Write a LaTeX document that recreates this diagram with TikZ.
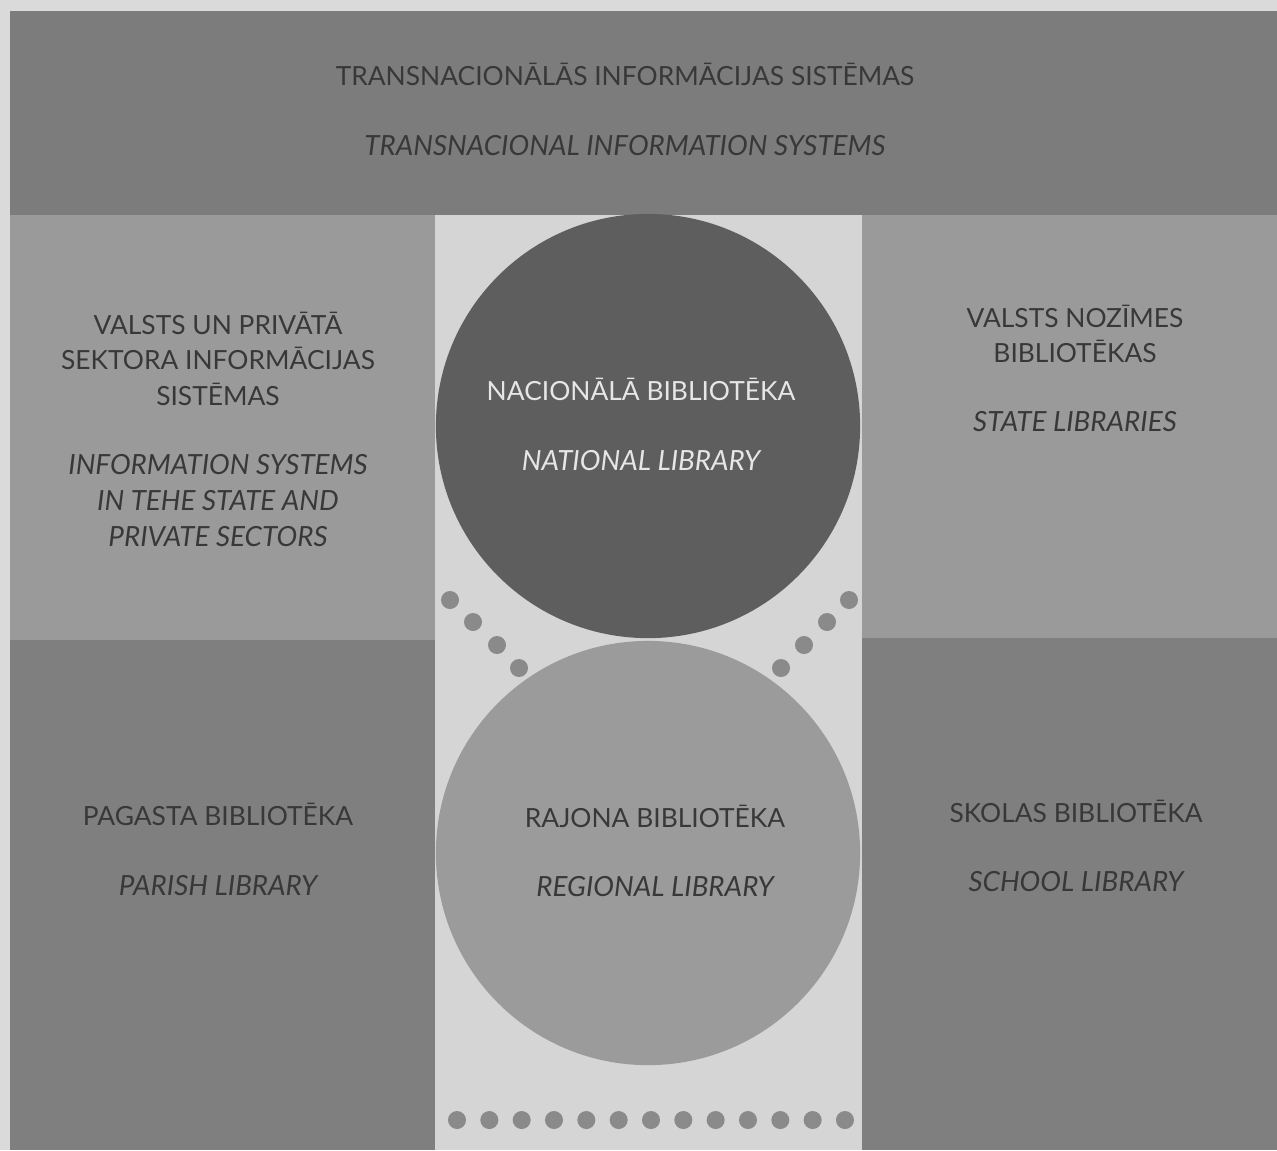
\documentclass[tikz,border=0pt]{standalone}
\usepackage{fontspec}
\setmainfont{Lato}
\definecolor{paper}{HTML}{DADADA}
\definecolor{band}{HTML}{7C7C7C}
\definecolor{upper}{HTML}{9A9A9A}
\definecolor{lower}{HTML}{7F7F7F}
\definecolor{column}{HTML}{D5D5D5}
\definecolor{natcirc}{HTML}{5E5E5E}
\definecolor{regcirc}{HTML}{9B9B9B}
\definecolor{dotc}{HTML}{8A8A8A}
\definecolor{ink}{HTML}{383838}
\definecolor{lightink}{HTML}{E6E6E6}
\tikzset{
  label/.style={align=center,text=ink,font=\fontsize{7.5}{10.2}\selectfont,inner sep=0pt},
  ilabel/.style={label,font=\fontsize{7.9}{10.2}\selectfont\itshape},
  bigcirc/.style={circle,minimum size=4.24cm,inner sep=0pt,draw=none},
  dotn/.style={circle,fill=dotc,minimum size=0.18cm,inner sep=0pt,draw=none},
}
\begin{document}
\begin{tikzpicture}[x=0.01cm,y=-0.01cm]
\useasboundingbox (0,0) rectangle (1277,1150);
\fill[paper] (0,0) rectangle (1277,1150);
% bands
\fill[band] (10,11) rectangle (1277,215);
\fill[upper] (10,215) rectangle (435,640);
\fill[lower] (10,640) rectangle (435,1150);
\fill[upper] (862,215) rectangle (1277,638);
\fill[lower] (862,638) rectangle (1277,1150);
\fill[column] (435,215) rectangle (862,1150);
% circles
\node[bigcirc,fill=natcirc] (nat) at (648,426) {};
\node[bigcirc,fill=regcirc] (reg) at (648,853) {};
% dots
\foreach \x/\y [count=\i] in {450/600,473/622,497/645,519/668}
  \node[dotn] (ld\i) at (\x,\y) {};
\foreach \x/\y [count=\i] in {849/600,827/622,804/645,781/668}
  \node[dotn] (rd\i) at (\x,\y) {};
\foreach \i in {0,...,12}
  \node[dotn] (bd\i) at (457+32.33*\i,1120) {};
% texts
\node[label] (t1) at (625,74) {TRANSNACIONĀLĀS INFORMĀCIJAS SISTĒMAS};
\node[ilabel] (t2) at (625,146) {TRANSNACIONAL INFORMATION SYSTEMS};
\node[label,anchor=north] (l1) at (218,311) {VALSTS UN PRIVĀTĀ\\SEKTORA INFORMĀCIJAS\\SISTĒMAS};
\node[ilabel,anchor=north] (l2) at (218,454) {INFORMATION SYSTEMS\\IN TEHE STATE AND\\PRIVATE SECTORS};
\node[label,text=lightink] (n1) at (641,389) {NACIONĀLĀ BIBLIOTĒKA};
\node[ilabel,text=lightink] (n2) at (641,461) {NATIONAL LIBRARY};
\node[label,anchor=north] (r1) at (1075,304) {VALSTS NOZĪMES\\BIBLIOTĒKAS};
\node[ilabel] (r2) at (1075,422) {STATE LIBRARIES};
\node[label] (p1) at (218,814) {PAGASTA BIBLIOTĒKA};
\node[ilabel] (p2) at (218,886) {PARISH LIBRARY};
\node[label] (g1) at (655,816) {RAJONA BIBLIOTĒKA};
\node[ilabel] (g2) at (655,887) {REGIONAL LIBRARY};
\node[label] (s1) at (1076,811) {SKOLAS BIBLIOTĒKA};
\node[ilabel] (s2) at (1076,882) {SCHOOL LIBRARY};
\end{tikzpicture}
\end{document}
